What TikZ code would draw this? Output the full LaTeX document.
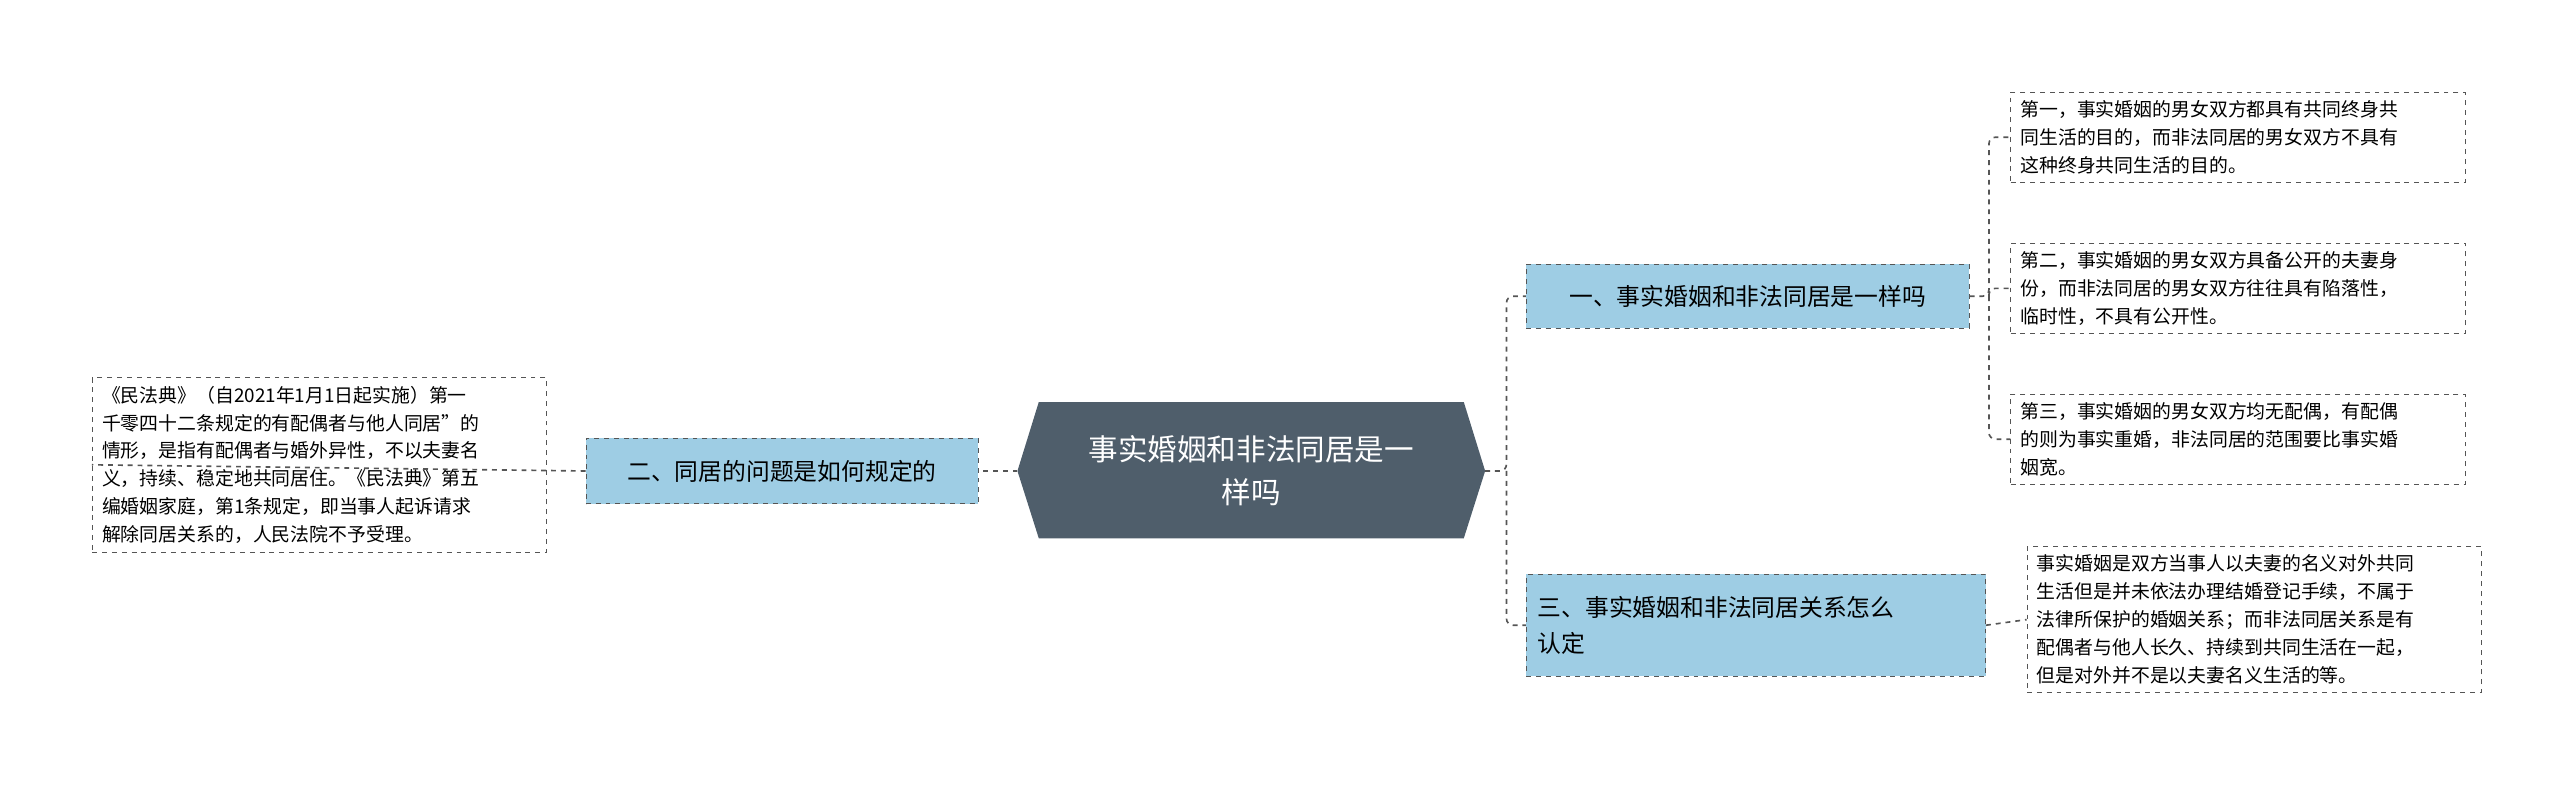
\documentclass[tikz,border=0pt]{standalone}
\usepackage{fontspec}
\setmainfont{Noto Sans CJK SC}
\usetikzlibrary{shapes.geometric}
\definecolor{centerc}{HTML}{4F5E6B}
\definecolor{branchc}{HTML}{9ECDE4}
\definecolor{linec}{HTML}{555555}
\tikzset{
 leaf/.style={draw=linec,dashed,fill=white,align=left,anchor=north west,font=\fontsize{11.5}{17}\selectfont,inner xsep=6pt,inner ysep=5pt},
 branch/.style={draw=linec,dashed,fill=branchc,align=left,font=\fontsize{14.5}{22}\selectfont,inner xsep=6pt},
 conn/.style={draw=linec,dashed,line width=1pt,rounded corners=4pt}
}
\begin{document}
\begin{tikzpicture}[x=1pt,y=-1pt]
\useasboundingbox (0,0) rectangle (1560,485);
% center
\fill[centerc] (620,287) -- (633,245) -- (892,245) -- (905,287) -- (892,328) -- (633,328) -- cycle;
\node[text=white,align=center,font=\fontsize{18}{26}\selectfont] (c) at (762.5,287) {事实婚姻和非法同居是一\\样吗};
\coordinate (cl) at (620,287); \coordinate (cr) at (905,287);
% branches
\node[branch,minimum width=239,minimum height=40] (b2) at (476.5,287) {二、同居的问题是如何规定的};
\node[branch,minimum width=270,minimum height=39] (b1) at (1065,180.5) {一、事实婚姻和非法同居是一样吗};
\node[branch,minimum width=280,minimum height=62,text width=266] (b3) at (1070,381) {三、事实婚姻和非法同居关系怎么\\认定};
% leaves
\node[leaf,text width=265] (l0) at (56,230) {《民法典》（自2021年1月1日起实施）第一\\千零四十二条规定的有配偶者与他人同居”的\\情形，是指有配偶者与婚外异性，不以夫妻名\\义，持续、稳定地共同居住。《民法典》第五\\编婚姻家庭，第1条规定，即当事人起诉请求\\解除同居关系的，人民法院不予受理。};
\node[leaf,text width=265] (l1) at (1225,56) {第一，事实婚姻的男女双方都具有共同终身共\\同生活的目的，而非法同居的男女双方不具有\\这种终身共同生活的目的。};
\node[leaf,text width=265] (l2) at (1225,148) {第二，事实婚姻的男女双方具备公开的夫妻身\\份，而非法同居的男女双方往往具有陷落性，\\临时性，不具有公开性。};
\node[leaf,text width=265] (l3) at (1225,240) {第三，事实婚姻的男女双方均无配偶，有配偶\\的则为事实重婚，非法同居的范围要比事实婚\\姻宽。};
\node[leaf,text width=265] (l4) at (1235,333) {事实婚姻是双方当事人以夫妻的名义对外共同\\生活但是并未依法办理结婚登记手续，不属于\\法律所保护的婚姻关系；而非法同居关系是有\\配偶者与他人长久、持续到共同生活在一起，\\但是对外并不是以夫妻名义生活的等。};
% connectors
\draw[conn] (cl) -- (b2.east);
\draw[conn] (b2.west) -- (l0.west);
\draw[conn] (cr) -- (918,287) |- (b1.west);
\draw[conn] (918,287) |- (b3.west);
\draw[conn] (b1.east) -- (1212,180.5) |- (l1.west);
\draw[conn] (1212,180.5) |- (l2.west);
\draw[conn] (1212,180.5) |- (l3.west);
\draw[conn] (b3.east) -- (l4.west);
\end{tikzpicture}
\end{document}
